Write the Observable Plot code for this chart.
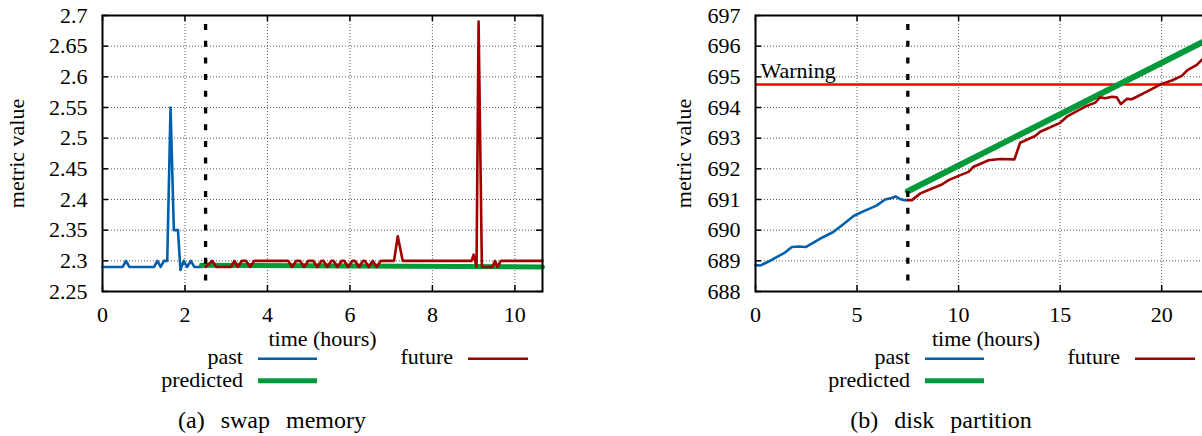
<!DOCTYPE html>
<html><head><meta charset="utf-8">
<script src="https://cdn.jsdelivr.net/npm/d3@7"></script>
<script src="https://cdn.jsdelivr.net/npm/@observablehq/plot@0.6"></script>
<style>
body{margin:0;background:#fff;}
#wrap{position:relative;width:1202px;height:436px;overflow:hidden;background:#fff;font-family:"Liberation Serif",serif;}
#wrap svg{position:absolute;top:0;}
</style></head><body><div id="wrap"></div>
<script>
// ---------- Panel (a): swap memory ----------
const xTicksA = [0, 2, 4, 6, 8, 10];
const xTickLabelsA = ["0", "2", "4", "6", "8", "10"];
const yTicksA = [2.25, 2.3, 2.35, 2.4, 2.45, 2.5, 2.55, 2.6, 2.65, 2.7];
const yTickLabelsA = ["2.25", "2.3", "2.35", "2.4", "2.45", "2.5", "2.55", "2.6", "2.65", "2.7"];
const xDomainA = [0, 10.67];
const yDomainA = [2.25, 2.7];
const splitA = 2.5;

const pastTimeA  = [0, 0.49, 0.57, 0.65, 1.25, 1.33, 1.41, 1.49, 1.57, 1.65, 1.73, 1.83, 1.89, 1.97, 2.05, 2.14, 2.23, 2.42];
const pastValueA = [2.29, 2.29, 2.30, 2.29, 2.29, 2.30, 2.29, 2.30, 2.30, 2.55, 2.35, 2.35, 2.285, 2.30, 2.29, 2.30, 2.29, 2.29];

const predTimeA  = [2.4, 10.67];
const predValueA = [2.293, 2.290];

const futTimeA  = [2.5, 2.66, 2.76, 3.12, 3.2, 3.28, 3.38, 3.48, 3.58, 3.68, 4.5, 4.6, 4.7, 4.79, 4.89, 4.99, 5.11, 5.21, 5.31, 5.36, 5.45, 5.55, 5.6, 5.7, 5.8, 5.86, 5.96, 6.06, 6.12, 6.22, 6.32, 6.36, 6.46, 6.55, 6.65, 6.75, 7.07, 7.16, 7.28, 8.95, 9.0, 9.07, 9.12, 9.2, 9.45, 9.52, 9.58, 9.66, 10.67];
const futValueA = [2.29, 2.30, 2.29, 2.29, 2.30, 2.29, 2.30, 2.30, 2.29, 2.30, 2.30, 2.29, 2.30, 2.30, 2.29, 2.30, 2.30, 2.29, 2.30, 2.30, 2.29, 2.30, 2.30, 2.29, 2.30, 2.30, 2.29, 2.30, 2.30, 2.29, 2.30, 2.30, 2.29, 2.30, 2.29, 2.30, 2.30, 2.34, 2.30, 2.30, 2.31, 2.29, 2.69, 2.29, 2.29, 2.30, 2.29, 2.30, 2.30];

// ---------- Panel (b): disk partition ----------
const xTicksB = [0, 5, 10, 15, 20];
const xTickLabelsB = ["0", "5", "10", "15", "20"];
const yTicksB = [688, 689, 690, 691, 692, 693, 694, 695, 696, 697];
const yTickLabelsB = ["688", "689", "690", "691", "692", "693", "694", "695", "696", "697"];
const xDomainB = [0, 22.7];
const yDomainB = [688, 697];
const splitB = 7.5;
const warningValueB = 694.75;
const warningLabelB = "Warning";

const pastTimeB  = [0, 0.25, 0.77, 1.45, 1.79, 2.13, 2.47, 2.81, 3.32, 3.83, 4.34, 4.85, 5.36, 5.96, 6.38, 6.7, 6.9, 7.1, 7.3, 7.5];
const pastValueB = [688.86, 688.85, 689.02, 689.27, 689.45, 689.47, 689.45, 689.58, 689.77, 689.94, 690.2, 690.47, 690.63, 690.8, 691.0, 691.05, 691.1, 691.02, 690.98, 690.98];

const predTimeB  = [7.5, 22.7];
const predValueB = [691.27, 696.36];

const futTimeB  = [7.5, 7.7, 8.12, 8.69, 9.18, 9.51, 10.0, 10.49, 10.74, 11.48, 12.05, 12.75, 13.03, 13.77, 14.02, 15.0, 15.33, 16.23, 16.73, 16.97, 17.22, 17.55, 17.79, 17.99, 18.28, 18.53, 19.27, 20.0, 20.5, 20.99, 21.27, 21.73, 22.0];
const futValueB = [690.98, 690.98, 691.2, 691.36, 691.49, 691.63, 691.77, 691.9, 692.07, 692.28, 692.32, 692.31, 692.85, 693.07, 693.21, 693.5, 693.7, 694.03, 694.16, 694.33, 694.3, 694.35, 694.33, 694.11, 694.28, 694.27, 694.52, 694.77, 694.88, 695.03, 695.22, 695.39, 695.57];

// ---------- legend / captions ----------
const seriesNames = ["past", "predicted", "future"];
const seriesColors = ["#0060ad", "#009a3a", "#a00000"];
const captionA = "(a) swap memory";
const captionB = "(b) disk partition";
const xLabel = "time (hours)";
const yLabel = "metric value";

const zip = (t, v) => t.map((d, i) => ({t: d, v: v[i]}));
const FONT = "Liberation Serif";

function panel({width, height, mLeft, mRight, mTop, mBottom, xDomain, yDomain, xTicks, xLabels, yTicks, yLabels, xGrid, yGrid, labelOffsetY, past, pred, fut, split, predWidth, extra = []}) {
  const pw = width - mLeft - mRight, ph = height - mTop - mBottom;
  const xl = new Map(xTicks.map((d, i) => [d, xLabels[i]]));
  const yl = new Map(yTicks.map((d, i) => [d, yLabels[i]]));
  const grid = {stroke: "#000", strokeOpacity: 0.65, strokeWidth: 1, strokeDasharray: "1,2"};
  const tk = {stroke: "#000", strokeWidth: 1.5};
  const txt = {fontSize: 22, fontFamily: FONT, fontVariant: "normal"};
  return Plot.plot({
    width, height,
    marginLeft: mLeft, marginRight: mRight, marginTop: mTop, marginBottom: mBottom,
    style: {fontFamily: FONT, fontSize: "22px", color: "#000", background: "transparent", overflow: "visible"},
    x: {domain: xDomain},
    y: {domain: yDomain},
    marks: [
      Plot.gridX(xGrid, grid),
      Plot.gridY(yGrid, grid),
      Plot.tickY(yTicks, {y: d => d, insetRight: pw - 6, ...tk}),
      Plot.tickY(yTicks, {y: d => d, insetLeft: pw - 6, ...tk}),
      Plot.tickX(xTicks, {x: d => d, insetTop: ph - 6, ...tk}),
      Plot.tickX(xTicks, {x: d => d, insetBottom: ph - 6, ...tk}),
      Plot.axisY(yTicks, {tickSize: 0, tickPadding: 15, tickFormat: d => yl.get(d), label: yLabel, labelAnchor: "center", labelOffset: labelOffsetY, labelArrow: "none", ...txt}),
      Plot.axisX(xTicks, {tickSize: 0, tickPadding: 15, tickFormat: d => xl.get(d), label: xLabel, labelAnchor: "center", labelOffset: 54, labelArrow: "none", ...txt}),
      ...extra,
      Plot.line(past, {x: "t", y: "v", stroke: seriesColors[0], strokeWidth: 2.6}),
      Plot.line(pred, {x: "t", y: "v", stroke: seriesColors[1], strokeWidth: predWidth}),
      Plot.line(fut, {x: "t", y: "v", stroke: seriesColors[2], strokeWidth: 2.6}),
      Plot.ruleX([split], {stroke: "#000", strokeWidth: 3.3, strokeDasharray: "6,10.7", strokeDashoffset: 7.7}),
      Plot.frame({stroke: "#000", strokeWidth: 2})
    ]
  });
}

const wrap = document.getElementById("wrap");

const svgA = panel({
  width: 560, height: 350, mLeft: 102, mRight: 18, mTop: 15, mBottom: 59,
  xDomain: xDomainA, yDomain: yDomainA,
  xTicks: xTicksA, xLabels: xTickLabelsA, yTicks: yTicksA, yLabels: yTickLabelsA,
  xGrid: xTicksA.slice(1), yGrid: yTicksA.slice(1, -1), labelOffsetY: 94,
  past: zip(pastTimeA, pastValueA), pred: zip(predTimeA, predValueA), fut: zip(futTimeA, futValueA),
  split: splitA, predWidth: 5
});
svgA.style.left = "0px";
wrap.appendChild(svgA);

const svgB = panel({
  width: 566, height: 350, mLeft: 95, mRight: 10, mTop: 15, mBottom: 59,
  xDomain: xDomainB, yDomain: yDomainB,
  xTicks: xTicksB, xLabels: xTickLabelsB, yTicks: yTicksB, yLabels: yTickLabelsB,
  xGrid: xTicksB.slice(1), yGrid: yTicksB.slice(1, -1), labelOffsetY: 80,
  past: zip(pastTimeB, pastValueB), pred: zip(predTimeB, predValueB), fut: zip(futTimeB, futValueB),
  split: splitB, predWidth: 6,
  extra: [
    Plot.ruleY([warningValueB], {stroke: "#ff0000", strokeWidth: 2.6}),
    Plot.text([warningLabelB], {x: xDomainB[0], y: warningValueB, text: d => d, textAnchor: "start", lineAnchor: "bottom", dx: 5, dy: -7, fontSize: 22, fontFamily: FONT, fill: "#000"})
  ]
});
svgB.style.left = "660px";
wrap.appendChild(svgB);

// legends and captions
const NS = "http://www.w3.org/2000/svg";
const ov = document.createElementNS(NS, "svg");
ov.setAttribute("width", 1202); ov.setAttribute("height", 436);
ov.style.left = "0px";
function txt(s, x, y, anchor, size, extra = {}) {
  const t = document.createElementNS(NS, "text");
  t.setAttribute("x", x); t.setAttribute("y", y);
  t.setAttribute("text-anchor", anchor); t.setAttribute("font-size", size);
  t.setAttribute("font-family", FONT);
  for (const k in extra) t.setAttribute(k, extra[k]);
  t.textContent = s; ov.appendChild(t);
}
function seg(x1, x2, y, color, w) {
  const l = document.createElementNS(NS, "line");
  l.setAttribute("x1", x1); l.setAttribute("x2", x2); l.setAttribute("y1", y); l.setAttribute("y2", y);
  l.setAttribute("stroke", color); l.setAttribute("stroke-width", w);
  ov.appendChild(l);
}
function legend(pastEnd, futEnd) {
  txt(seriesNames[0], pastEnd, 364, "end", 22);
  seg(pastEnd + 15, pastEnd + 74, 358.7, seriesColors[0], 2.6);
  txt(seriesNames[1], pastEnd, 387, "end", 22);
  seg(pastEnd + 15, pastEnd + 74, 380.7, seriesColors[1], 5);
  txt(seriesNames[2], futEnd, 364, "end", 22);
  seg(futEnd + 15, futEnd + 75, 358.7, seriesColors[2], 2.6);
}
legend(243, 453);
legend(910, 1120);
txt(captionA, 272, 428, "middle", 24, {"word-spacing": "10"});
txt(captionB, 941, 428, "middle", 24, {"word-spacing": "10"});
wrap.appendChild(ov);
wrap.querySelectorAll("text, tspan").forEach(t => { t.style.fontFamily = FONT; });
</script>
</body></html>
